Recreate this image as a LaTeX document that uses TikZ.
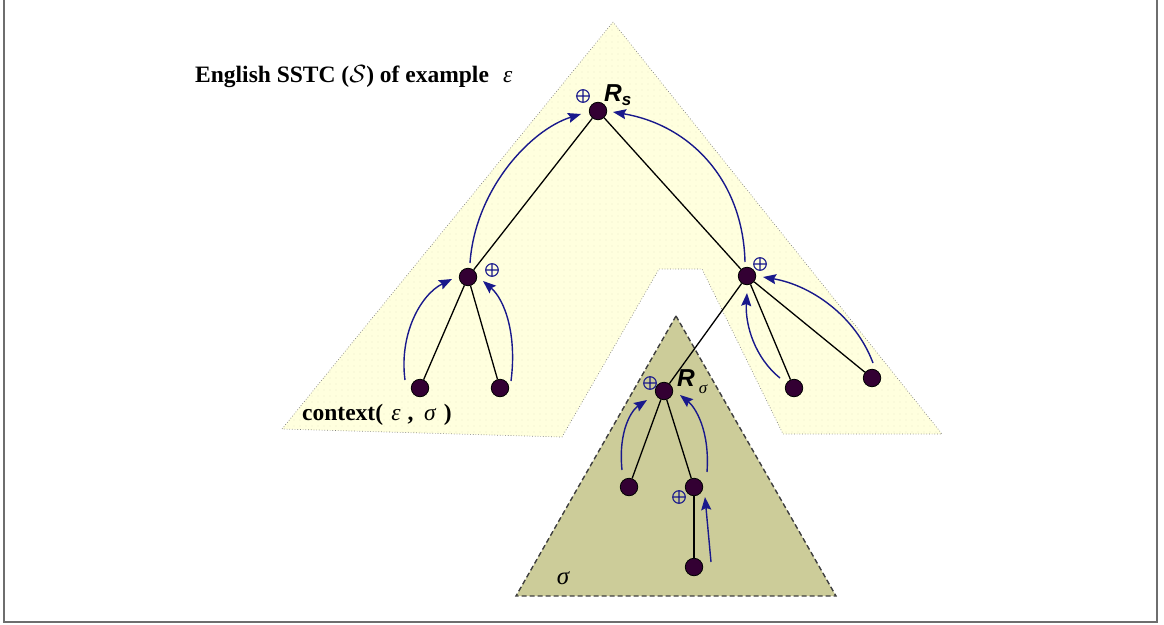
\documentclass[tikz,border=0pt]{standalone}
\usepackage{fontspec}
\setmainfont{Liberation Serif}
\newfontfamily\labelsans{Liberation Sans}
\usetikzlibrary{arrows.meta,patterns.meta}

\definecolor{paleyellow}{RGB}{255,255,222}
\definecolor{dotgray}{RGB}{205,205,170}
\definecolor{olive}{RGB}{204,204,153}
\definecolor{vertex}{RGB}{51,0,51}
\definecolor{navy}{RGB}{25,25,140}
\definecolor{framegray}{RGB}{110,110,110}

\tikzset{
  dot/.style={circle,fill=vertex,draw=black,line width=0.8pt,inner sep=0pt,minimum size=17.5pt},
  edge/.style={draw=black,line width=1.3pt},
  flow/.style={draw=navy,line width=1.4pt,-{Stealth[length=13pt,width=10pt,inset=2pt]}},
  oplus/.pic={\draw[navy,line width=1.1pt] (0,0) circle (6.3pt) (-6.3pt,0)--(6.3pt,0) (0,-6.3pt)--(0,6.3pt);},
  bigtext/.style={font=\fontsize{23.5}{27}\selectfont\bfseries,inner sep=0pt},
  rlabel/.style={font=\labelsans\fontsize{24.5}{28}\selectfont\bfseries\itshape,inner sep=0pt},
}

\begin{document}
\begin{tikzpicture}[x=1pt,y=-1pt]
\useasboundingbox (0,0) rectangle (1164,624);

% page frame
\draw[framegray,line width=1.6pt] (4,-3) -- (4,622) -- (1157,622) -- (1157,-3);

% context region (dotted yellow shape with a notch)
\path[fill=paleyellow] (613,22) -- (282,429) -- (562,437) -- (659,269) -- (702,269) -- (783,434) -- (942,434) -- cycle;
\path[pattern={Dots[distance=6pt,radius=0.45pt]},pattern color=dotgray] (613,22) -- (282,429) -- (562,437) -- (659,269) -- (702,269) -- (783,434) -- (942,434) -- cycle;
\draw[gray,line width=0.7pt,dotted] (613,22) -- (282,429) -- (562,437) -- (659,269) -- (702,269) -- (783,434) -- (942,434) -- cycle;

% subtree sigma
\draw[fill=olive,draw=black!75,line width=1.4pt,dash pattern=on 5pt off 3pt] (676,316) -- (516,596) -- (836,596) -- cycle;

% tree nodes
\node[dot] (rs) at (598,111) {};
\node[dot] (lm) at (468,277) {};
\node[dot] (rm) at (747,276) {};
\node[dot] (l1) at (420,388) {};
\node[dot] (l2) at (500,388) {};
\node[dot] (r1) at (794,388) {};
\node[dot] (r2) at (872,378) {};
\node[dot] (rsig) at (664,391) {};
\node[dot] (s1) at (629,487) {};
\node[dot] (s2) at (694,487) {};
\node[dot] (s3) at (694,567) {};

% tree edges
\draw[edge] (rs) -- (lm);
\draw[edge] (rs) -- (rm);
\draw[edge] (lm) -- (l1);
\draw[edge] (lm) -- (l2);
\draw[edge] (rm) -- (r1);
\draw[edge] (rm) -- (r2);
\draw[edge] (rm) -- (rsig);
\draw[edge] (rsig) -- (s1);
\draw[edge] (rsig) -- (s2);
\draw[edge] (s2) -- (s3);

% bottom-up combination arrows
\coordinate (a1s) at (405,380);  \coordinate (a1e) at (452,279);
\coordinate (a2s) at (511,381);  \coordinate (a2e) at (483,281);
\coordinate (a3s) at (470,263);  \coordinate (a3e) at (581,114);
\coordinate (a4s) at (745,262);  \coordinate (a4e) at (613,112);
\coordinate (a5s) at (780,378);  \coordinate (a5e) at (747,293);
\coordinate (a6s) at (873,363);  \coordinate (a6e) at (763,277);
\coordinate (a7s) at (622,470);  \coordinate (a7e) at (647,400);
\coordinate (a8s) at (707,472);  \coordinate (a8e) at (680,395);
\coordinate (a9s) at (711,562);  \coordinate (a9e) at (705,497);

\draw[flow] (a1s) .. controls (399,335) and (420,295) .. (a1e);
\draw[flow] (a2s) .. controls (517,335) and (505,300) .. (a2e);
\draw[flow] (a3s) .. controls (475,190) and (530,130) .. (a3e);
\draw[flow] (a4s) .. controls (743,180) and (690,125) .. (a4e);
\draw[flow] (a5s) .. controls (755,358) and (745,325) .. (a5e);
\draw[flow] (a6s) .. controls (855,315) and (810,285) .. (a6e);
\draw[flow] (a7s) .. controls (618,430) and (632,410) .. (a7e);
\draw[flow] (a8s) .. controls (710,430) and (695,407) .. (a8e);
\draw[flow] (a9s) -- (a9e);

% combination marks
\pic at (583,96) {oplus};
\pic at (492,270) {oplus};
\pic at (760,264) {oplus};
\pic at (650,383) {oplus};
\pic at (679,497) {oplus};

% labels
\node[bigtext,anchor=base west] (title) at (195,82) {English SSTC ($\mathcal{S}$) of example\hspace{0.6em}{\mdseries\itshape ε}};
\node[bigtext,anchor=base west] (ctx) at (302,420) {context(\hspace{0.35em}{\mdseries\itshape ε}\hspace{0.3em},\hspace{0.45em}{\mdseries\itshape σ}\hspace{0.35em})};
\node[rlabel,anchor=base west] (rslab) at (604,101) {R\raisebox{-4pt}{\fontsize{17}{18}\selectfont s}};
\node[rlabel,anchor=base west] (rsiglab) at (677,386) {R\hspace{4pt}\raisebox{-7pt}{\fontsize{17}{18}\selectfont\rmfamily\mdseries\itshape σ}};
\node[font=\fontsize{25}{28}\selectfont\itshape,inner sep=0pt] (siglab) at (563,578) {σ};
\end{tikzpicture}
\end{document}
